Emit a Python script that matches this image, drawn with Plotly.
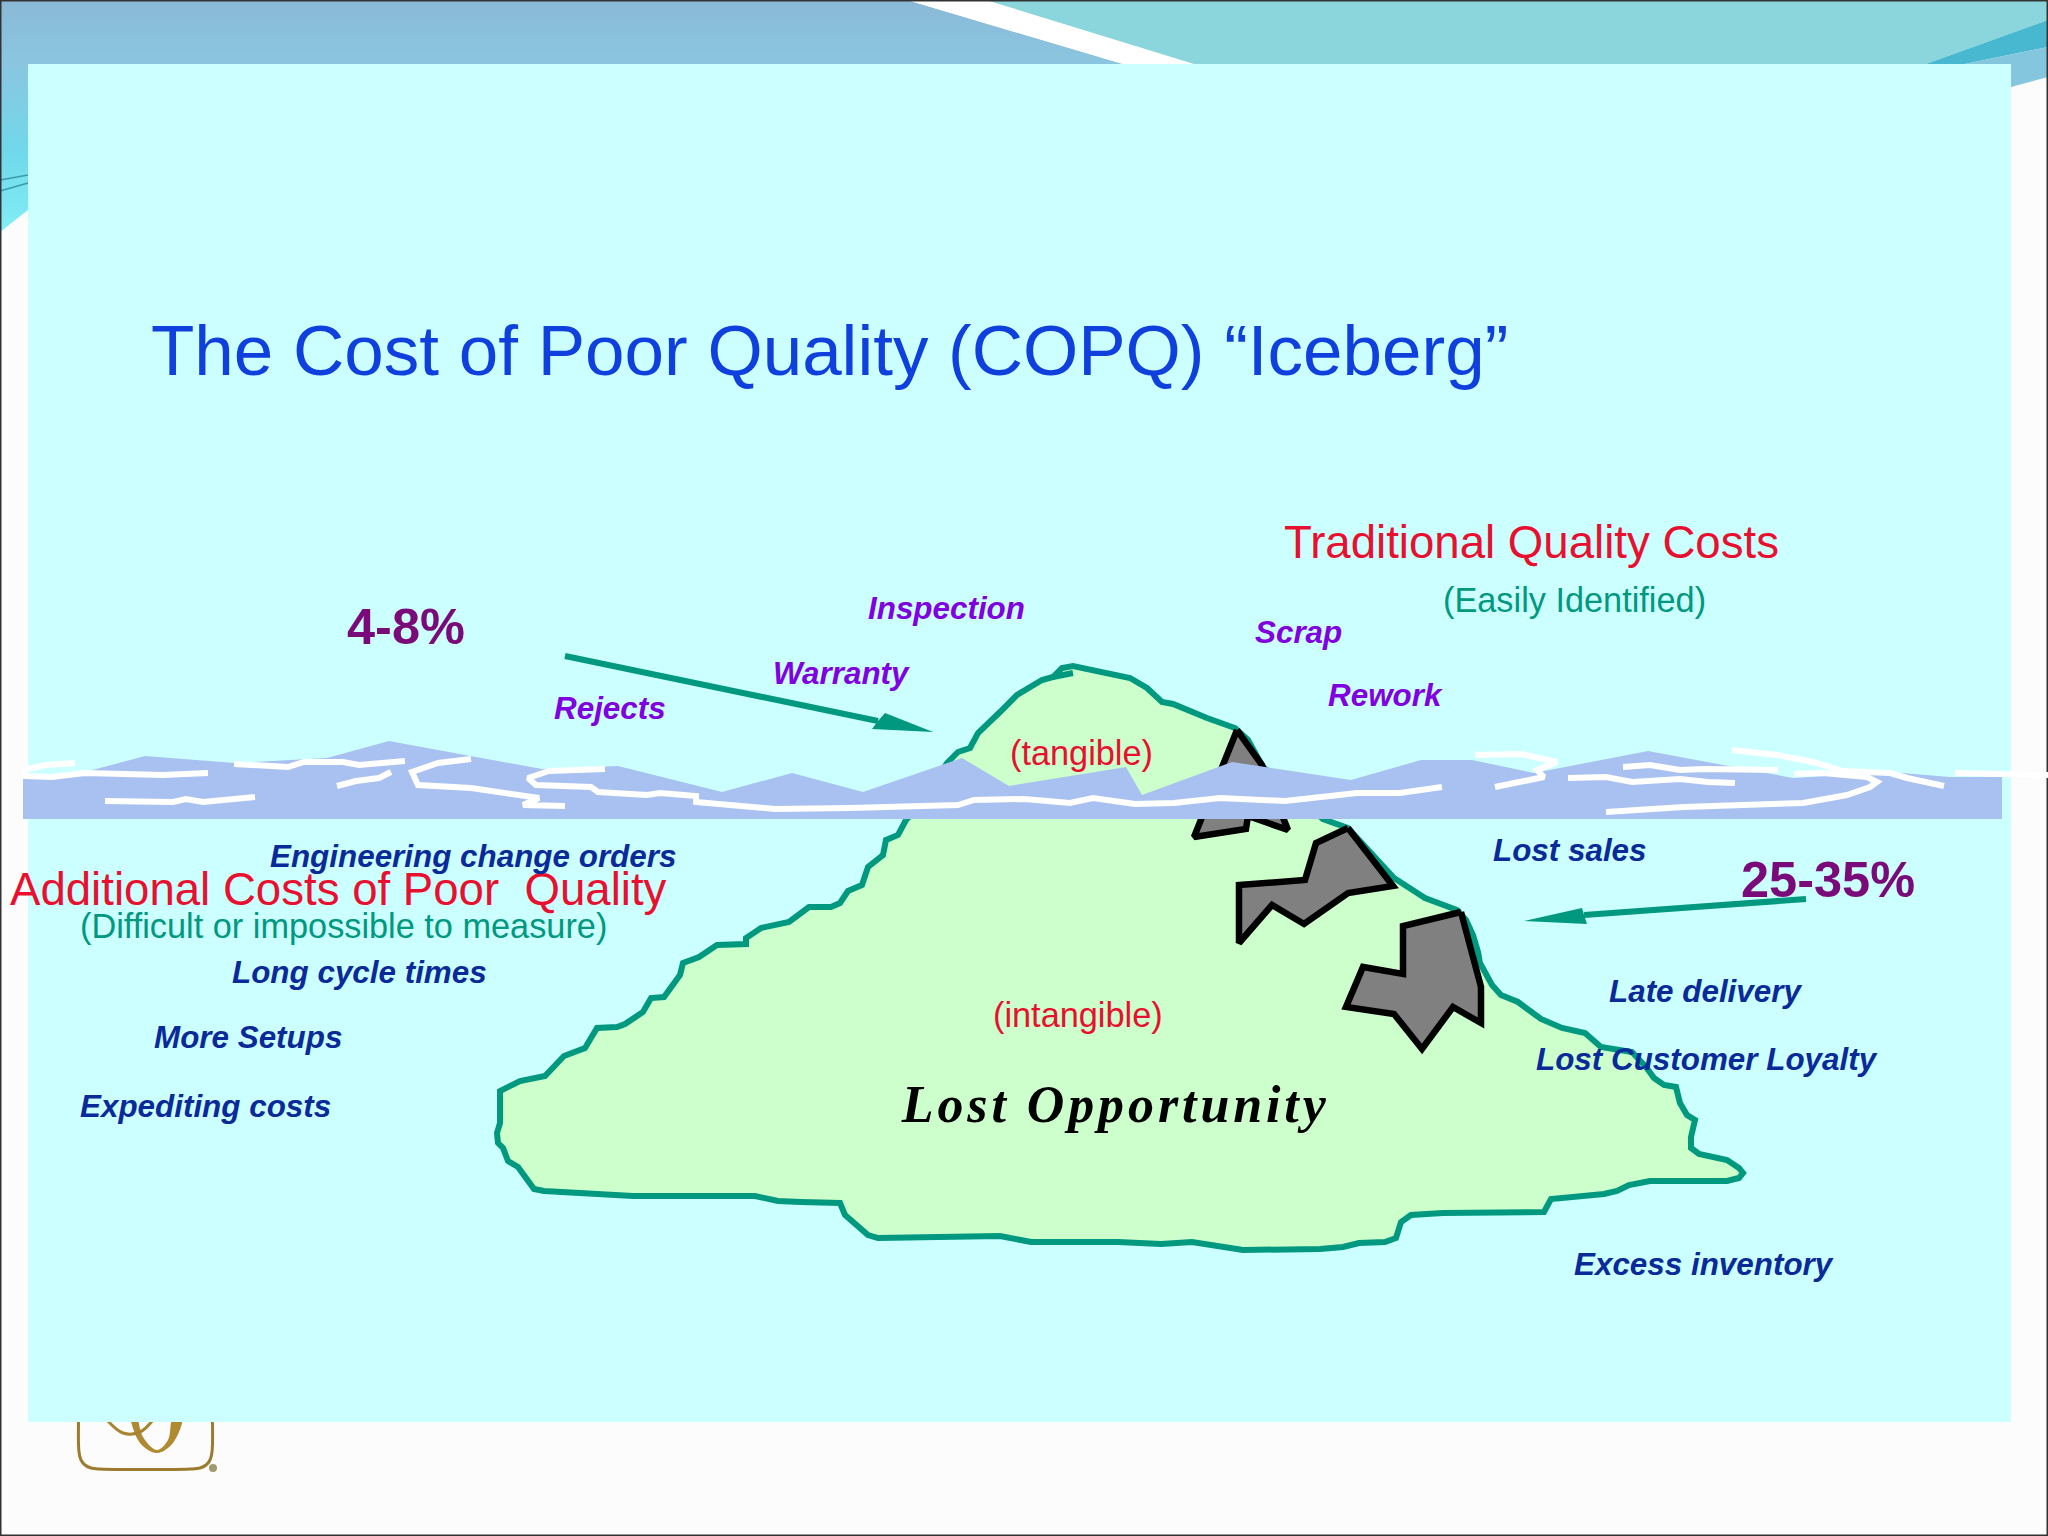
import plotly.graph_objects as go

# --- CONFIGURATION ---
WIDTH = 2048
HEIGHT = 1536
PAGE = "#fdfcfd"
PANEL = "#ccffff"
ICE = "#ccffcc"
TEAL = "#009980"
WATER = "#a9c1f0"
ROCK = "#808080"
RED = "#e8102e"
BLUE = "#0f3fdc"
PLUM = "#7a0a7a"
VIOLET = "#8000e0"
NAVY = "#0a2a9a"
GOLD = "#9c7a2e"
SANS = "Liberation Sans"

# --- BACKDROP ---
LEFT_X = [0, 907, 1123, 28, 28, 0]
LEFT_Y = [0, 0, 64, 64, 210, 232]
SWOOSH_X = [[0, 28], [0, 28]]
SWOOSH_Y = [[180, 175], [191, 183]]
STRIPE_X = [907, 986, 1194, 1123]
STRIPE_Y = [0, 0, 64, 64]
TOP_RIGHT_X = [986, 2048, 2048, 1926, 1194]
TOP_RIGHT_Y = [0, 0, 20, 64, 64]
DARK_X = [1926, 2048, 2048, 1965]
DARK_Y = [64, 20, 47, 64]
LIGHT_X = [1965, 2048, 2048, 2011, 2011]
LIGHT_Y = [64, 47, 77, 87, 64]
PANEL_X = [28, 2011, 2011, 28]
PANEL_Y = [64, 64, 1422, 1422]
FRAME_X = [0, 2048, 2048, 0, 0]
FRAME_Y = [0, 0, 1536, 1536, 0]

# --- LOGO (only the part below the panel shows) ---
LOGO_X = [79, 79, 81, 85, 91, 100, 190, 200, 206, 210, 212, 212]
LOGO_Y = [1400, 1452, 1460, 1465, 1468, 1469, 1469, 1468, 1465, 1460, 1452, 1400]
RING_X = [130, 140, 157, 173, 182, 173, 168, 157, 143, 138]
RING_Y = [1418, 1443, 1453, 1443, 1418, 1418, 1440, 1450, 1437, 1418]
SWASH_X = [107, 123, 140, 153]
SWASH_Y = [1420, 1433, 1432, 1420]
LOGO_DOT_X = [213]
LOGO_DOT_Y = [1468]

# --- ICEBERG ---
ICEBERG_X = [906, 898, 886, 883, 868, 862, 848, 840, 831, 809, 789, 761, 746, 746, 717, 699, 683, 680,
             664, 651, 643, 625, 617, 597, 585, 564, 545, 520, 500, 500, 497, 498, 503, 508, 518, 534,
             544, 582, 633, 755, 778, 801, 827, 840, 845, 868, 878, 939, 1000, 1031, 1118, 1161, 1192,
             1243, 1320, 1343, 1359, 1385, 1396, 1401, 1411, 1443, 1513, 1544, 1551, 1604, 1617, 1629,
             1650, 1727, 1739, 1743, 1739, 1727, 1699, 1691, 1691, 1695, 1687, 1680, 1676, 1664, 1654,
             1646, 1632, 1601, 1585, 1562, 1541, 1520, 1518, 1501, 1492, 1480, 1478, 1473, 1466, 1457,
             1425, 1394, 1380, 1348, 1323, 1263, 1248, 1235, 1207, 1173, 1162, 1147, 1130, 1100, 1073,
             1062, 1053, 1042, 1017, 1000, 978, 970, 958, 947, 925, 906]
ICEBERG_Y = [820, 835, 840, 855, 867, 885, 891, 903, 907, 907, 922, 928, 938, 944, 945, 957, 963, 975,
             997, 998, 1012, 1024, 1027, 1028, 1048, 1056, 1076, 1081, 1091, 1123, 1133, 1143, 1148,
             1161, 1167, 1189, 1191, 1193, 1196, 1196, 1201, 1202, 1202, 1203, 1215, 1235, 1238, 1237,
             1236, 1242, 1242, 1244, 1242, 1250, 1249, 1247, 1243, 1242, 1238, 1222, 1215, 1213, 1213,
             1212, 1199, 1194, 1191, 1185, 1181, 1181, 1178, 1173, 1168, 1160, 1154, 1148, 1137, 1120,
             1115, 1103, 1087, 1085, 1078, 1067, 1052, 1047, 1033, 1028, 1019, 1005, 1002, 995, 985,
             963, 952, 935, 920, 910, 898, 878, 863, 828, 819, 767, 740, 728, 718, 704, 702, 688, 678,
             671, 666, 668, 677, 680, 695, 712, 733, 748, 752, 763, 800, 820]
STUB_X = [1053, 1073]
STUB_Y = [677, 673]

ROCK_1_X = [1237, 1262, 1288, 1248, 1246, 1194]
ROCK_1_Y = [730, 765, 830, 816, 829, 837]
ROCK_2_X = [1348, 1393, 1348, 1304, 1272, 1239, 1239, 1305, 1316]
ROCK_2_Y = [828, 886, 893, 924, 905, 943, 885, 880, 843]
ROCK_3_X = [1461, 1481, 1481, 1453, 1422, 1394, 1346, 1363, 1403, 1403]
ROCK_3_Y = [912, 987, 1023, 1007, 1049, 1014, 1007, 967, 974, 926]

# --- WATER ---
WATER_X = [23, 85, 145, 235, 327, 389, 542, 618, 722, 792, 863, 962, 1009, 1126, 1142, 1232, 1351, 1421,
           1472, 1534, 1648, 1727, 1793, 1890, 1950, 2002, 2002, 23]
WATER_Y = [777, 772, 756, 763, 758, 741, 769, 766, 792, 773, 792, 758, 786, 767, 795, 762, 780, 760,
           760, 773, 751, 766, 778, 772, 777, 777, 819, 819]

WAVES_X = [
    [23, 46, 75],
    [23, 52, 85, 163, 208],
    [105, 173, 186, 203, 255],
    [234, 288, 304, 343, 359, 405],
    [337, 356, 379, 391],
    [471, 438, 412, 418, 471, 503, 539, 523, 565],
    [605, 549, 528, 536, 591, 598, 647, 660, 696, 696, 775, 850, 958, 974, 1024, 1070, 1093, 1135, 1174,
     1220, 1285, 1357, 1400, 1442],
    [1475, 1521, 1557, 1537, 1544, 1495],
    [1568, 1606, 1632, 1680, 1708, 1735],
    [1623, 1650, 1680, 1704, 1778],
    [1732, 1777, 1813, 1843, 1890, 1907, 1944],
    [1606, 1684, 1803, 1847, 1870, 1877, 1867, 1823, 1794],
    [1955, 2048],
]
WAVES_Y = [
    [770, 765, 763],
    [776, 777, 773, 775, 773],
    [801, 802, 799, 802, 797],
    [764, 767, 762, 762, 765, 761],
    [786, 781, 778, 772],
    [759, 763, 772, 785, 788, 793, 798, 805, 806],
    [769, 771, 778, 785, 787, 792, 795, 793, 796, 802, 809, 808, 805, 800, 799, 803, 798, 804, 803,
     798, 801, 793, 793, 787],
    [755, 754, 762, 770, 777, 787],
    [778, 777, 782, 779, 782, 783],
    [767, 765, 770, 769, 770],
    [750, 755, 762, 771, 773, 778, 786],
    [812, 807, 803, 795, 787, 782, 777, 773, 774],
    [773, 775],
]

# --- ARROWS ---
ARROW_1_X = [565, 878]
ARROW_1_Y = [656, 721]
HEAD_1_X = [933, 885, 878, 872]
HEAD_1_Y = [732, 713, 721, 729]
ARROW_2_X = [1806, 1584]
ARROW_2_Y = [899, 915]
HEAD_2_X = [1524, 1582, 1584, 1587]
HEAD_2_Y = [921, 908, 915, 924]

# --- TEXT ---
TITLE = "The Cost of Poor Quality (COPQ) “Iceberg”"
RED_LABELS = ["Traditional Quality Costs", "Additional Costs of Poor\u00a0\u00a0Quality"]
RED_X = [1284, 10]
RED_Y = [542, 889]
TEAL_LABELS = ["(Easily Identified)", "(Difficult or impossible to measure)"]
TEAL_X = [1443, 80]
TEAL_Y = [600, 926]
PERCENT_LABELS = ["4-8%", "25-35%"]
PERCENT_X = [347, 1741]
PERCENT_Y = [626, 879]
VIOLET_LABELS = ["Inspection", "Warranty", "Rejects", "Scrap", "Rework"]
VIOLET_X = [868, 773, 554, 1255, 1328]
VIOLET_Y = [608, 673, 708, 632, 695]
NAVY_LABELS = ["Engineering change orders", "Long cycle times", "More Setups", "Expediting costs",
               "Lost sales", "Late delivery", "Lost Customer Loyalty", "Excess inventory"]
NAVY_X = [270, 232, 154, 80, 1493, 1609, 1536, 1574]
NAVY_Y = [856, 972, 1037, 1106, 850, 991, 1059, 1264]
INNER_LABELS = ["(tangible)", "(intangible)"]
INNER_X = [1010, 993]
INNER_Y = [753, 1015]
SLOGAN = "Lost Opportunity"

# plotly has no letter-spacing option, the slogan in the slide is spaced out
POST_SCRIPT = """
document.body.style.margin = '0';
document.body.style.overflow = 'hidden';
document.querySelectorAll('.annotation-text').forEach(function (t) {
    if (t.textContent === '%s') { t.style.letterSpacing = '3.9px'; }
});
""" % SLOGAN


def area(xs, ys, color, shape="linear"):
    return go.Scatter(x=xs, y=ys, mode="lines", fill="toself", fillcolor=color,
                      line=dict(width=0, color=color, shape=shape), hoverinfo="skip")


def gradient_area(xs, ys, stops):
    return go.Scatter(x=xs, y=ys, mode="lines", fill="toself", line=dict(width=0),
                      fillgradient=dict(type="vertical", colorscale=stops), hoverinfo="skip")


def outline(xs, ys, color, width, fill=None, shape="linear"):
    closed_x, closed_y = list(xs), list(ys)
    if fill:
        closed_x.append(xs[0])
        closed_y.append(ys[0])
    return go.Scatter(x=closed_x, y=closed_y, mode="lines", fill="toself" if fill else None,
                      fillcolor=fill, line=dict(color=color, width=width, shape=shape), hoverinfo="skip")


def labels(texts, xs, ys, size, color, weight="normal", style="normal", family=SANS):
    # annotations pad their box a little, the shift takes that back out
    return [dict(x=x, y=y, text=t, xref="x", yref="y", xanchor="left", yanchor="middle", showarrow=False,
                 xshift=-2, font=dict(family=family, size=size, color=color, weight=weight, style=style))
            for t, x, y in zip(texts, xs, ys)]


fig = go.Figure()

fig.add_trace(gradient_area(LEFT_X, LEFT_Y, [[0, "#82eef4"], [0.35, "#70d8ea"], [0.72, "#8ac6e0"], [1, "#8ab9d6"]]))
for swoosh_x, swoosh_y in zip(SWOOSH_X, SWOOSH_Y):
    fig.add_trace(outline(swoosh_x, swoosh_y, "#3a9aa8", 1.5))
fig.add_trace(area(STRIPE_X, STRIPE_Y, "#ffffff"))
fig.add_trace(area(TOP_RIGHT_X, TOP_RIGHT_Y, "#8ad6dc"))
fig.add_trace(area(DARK_X, DARK_Y, "#48b8d0"))
fig.add_trace(area(LIGHT_X, LIGHT_Y, "#84c6de"))

fig.add_trace(outline(LOGO_X, LOGO_Y, GOLD, 3, shape="spline"))
fig.add_trace(area(RING_X, RING_Y, "#b08a30", shape="spline"))
fig.add_trace(outline(SWASH_X, SWASH_Y, "#a88430", 3, shape="spline"))
fig.add_trace(go.Scatter(x=LOGO_DOT_X, y=LOGO_DOT_Y, mode="markers", hoverinfo="skip",
                         marker=dict(size=8, color="#a09a70")))

fig.add_trace(area(PANEL_X, PANEL_Y, PANEL))
fig.add_trace(outline(FRAME_X, FRAME_Y, "#333333", 3))

fig.add_trace(outline(ICEBERG_X, ICEBERG_Y, TEAL, 6, fill=ICE))
fig.add_trace(outline(STUB_X, STUB_Y, TEAL, 6))
for rock_x, rock_y in [(ROCK_1_X, ROCK_1_Y), (ROCK_2_X, ROCK_2_Y), (ROCK_3_X, ROCK_3_Y)]:
    fig.add_trace(outline(rock_x, rock_y, "#000000", 6.5, fill=ROCK))

fig.add_trace(area(WATER_X, WATER_Y, WATER))
for wave_x, wave_y in zip(WAVES_X, WAVES_Y):
    fig.add_trace(outline(wave_x, wave_y, "#ffffff", 6))

fig.add_trace(outline(ARROW_1_X, ARROW_1_Y, TEAL, 6))
fig.add_trace(area(HEAD_1_X, HEAD_1_Y, TEAL))
fig.add_trace(outline(ARROW_2_X, ARROW_2_Y, TEAL, 6))
fig.add_trace(area(HEAD_2_X, HEAD_2_Y, TEAL))

annotations = []
annotations += labels([TITLE], [151], [350], 71, BLUE)
annotations += labels(RED_LABELS, RED_X, RED_Y, 45.6, RED)
annotations += labels(TEAL_LABELS, TEAL_X, TEAL_Y, 34.3, TEAL)
annotations += labels(PERCENT_LABELS, PERCENT_X, PERCENT_Y, 50.5, PLUM, weight="bold")
annotations += labels(VIOLET_LABELS, VIOLET_X, VIOLET_Y, 31.4, VIOLET, weight="bold", style="italic")
annotations += labels(NAVY_LABELS, NAVY_X, NAVY_Y, 31.4, NAVY, weight="bold", style="italic")
annotations += labels(INNER_LABELS, INNER_X, INNER_Y, 34.3, RED)
annotations += labels([SLOGAN], [932], [1104], 52, "#000000", weight="bold", style="italic",
                      family="Liberation Serif")

fig.update_layout(
    width=WIDTH, height=HEIGHT,
    margin=dict(l=0, r=0, t=0, b=0),
    paper_bgcolor=PAGE, plot_bgcolor=PAGE,
    showlegend=False,
    xaxis=dict(range=[0, WIDTH], visible=False, fixedrange=True),
    yaxis=dict(range=[HEIGHT, 0], visible=False, fixedrange=True),
    annotations=annotations,
)

fig.write_html("out.html", config={"displayModeBar": False}, post_script=POST_SCRIPT)
